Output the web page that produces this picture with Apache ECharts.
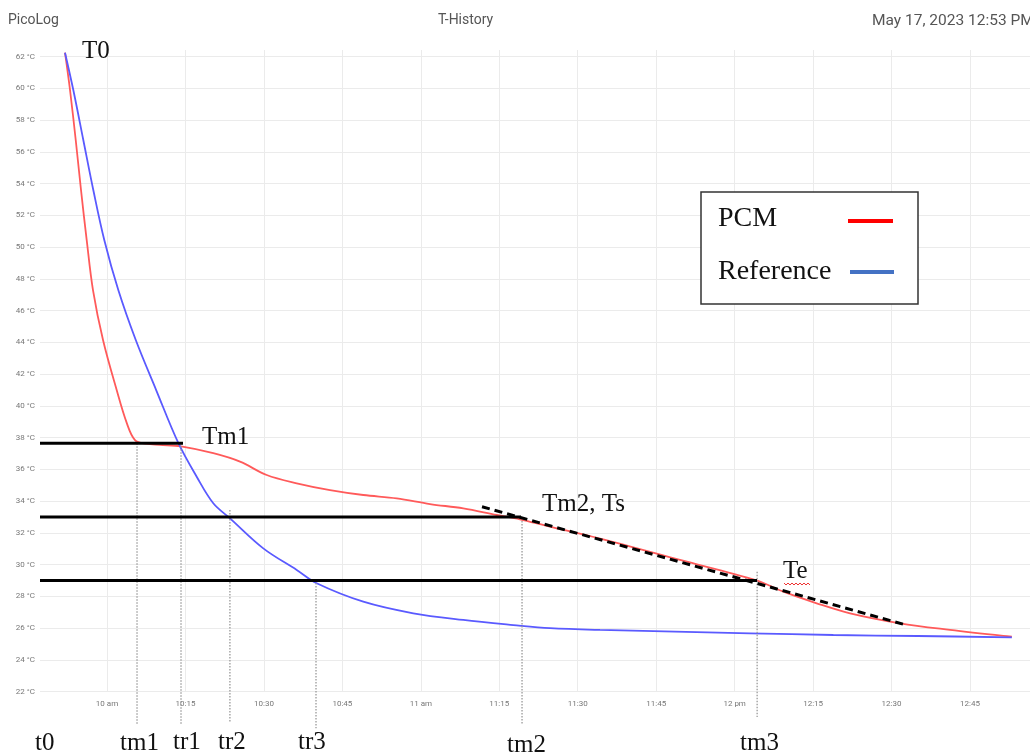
<!DOCTYPE html>
<html>
<head>
<meta charset="utf-8">
<style>html,body{margin:0;padding:0;background:#fff;}#c{width:1030px;height:756px;}</style>
<script src="https://cdn.jsdelivr.net/npm/echarts@6/dist/echarts.min.js"></script>
</head>
<body>
<div id="c"></div>
<script>
// time values are minutes since midnight
var xTicks = [600, 615, 630, 645, 660, 675, 690, 705, 720, 735, 750, 765];

var pcmTime = [591.97, 592.93, 594.02, 595.03, 596.12, 597.32, 599.24, 601.85, 603.77, 605.35, 607.5, 610.1, 614.15, 620.32, 625.43, 630.53, 636.27, 642.64, 649.0, 655.39, 661.76, 668.12, 674.51, 678.96, 684.07, 694.26, 709.55, 724.28, 729.3, 735.69, 742.07, 751.63, 761.18, 771.37, 773.0];
var pcmTemp = [62.25, 59.9, 56.75, 53.6, 50.45, 47.3, 44.15, 41.0, 38.93, 37.85, 37.62, 37.55, 37.45, 37.02, 36.49, 35.65, 35.13, 34.70, 34.39, 34.18, 33.82, 33.55, 33.13, 32.86, 32.44, 31.64, 30.30, 29.0, 28.30, 27.57, 26.94, 26.31, 25.89, 25.51, 25.47];

var refTime = [591.97, 593.56, 595.47, 597.38, 599.48, 602.16, 605.5, 609.4, 613.63, 617.15, 620.32, 623.52, 629.88, 636.27, 640.09, 649.0, 658.56, 668.12, 677.68, 684.7, 694.26, 722.94, 738.87, 755.0, 773.0];
var refTemp = [62.25, 59.9, 56.75, 53.6, 50.45, 47.3, 44.15, 41.0, 37.67, 35.54, 33.87, 32.92, 31.03, 29.67, 28.83, 27.67, 26.94, 26.52, 26.20, 26.0, 25.89, 25.68, 25.57, 25.51, 25.42];

// horizontal reference levels (Tm1, Tm2/Ts, Te)
var levelTemp = [37.65, 33.0, 29.0];
var levelStart = [587.19, 587.19, 587.19];
var levelEnd = [614.53, 679.15, 724.28];

// vertical marker times (tm1, tr1, tr2, tr3, tm2, tm3)
var markTime = [605.74, 614.15, 623.5, 639.96, 679.35, 724.3];
var markTop = [37.65, 37.65, 33.45, 29.04, 32.94, 29.55];
var markBottom = [19.9, 19.97, 20.03, 19.7, 19.97, 20.4];

// tangent line
var tangentTime = [671.7, 752.6];
var tangentTemp = [33.65, 26.22];

var bottomLabels = ['t0', 'tm1', 'tr1', 'tr2', 'tr3', 'tm2', 'tm3'];
var pointLabels = ['T0', 'Tm1', 'Tm2, Ts', 'Te'];
var legendNames = ['PCM', 'Reference'];

function zip(a, b) { return a.map(function (v, i) { return [v, b[i]]; }); }
function fmtTime(m) {
  var h = Math.floor(m / 60), mm = Math.round(m - h * 60);
  if (mm === 0) return h < 12 ? h + ' am' : (h === 12 ? '12 pm' : (h - 12) + ' pm');
  var hh = h > 12 ? h - 12 : h;
  return hh + ':' + (mm < 10 ? '0' + mm : mm);
}

var chart = echarts.init(document.getElementById('c'), null, {renderer: 'canvas'});

var series = [
  {type: 'line', name: legendNames[0], data: zip(pcmTime, pcmTemp), smooth: 0.35, symbol: 'none',
   lineStyle: {color: '#ff5a5a', width: 1.8}, z: 3},
  {type: 'line', name: legendNames[1], data: zip(refTime, refTemp), smooth: 0.35, symbol: 'none',
   lineStyle: {color: '#5a5aff', width: 1.8}, z: 3}
];
levelTemp.forEach(function (t, i) {
  series.push({type: 'line', data: [[levelStart[i], t], [levelEnd[i], t]], symbol: 'none', clip: false,
    lineStyle: {color: '#000', width: 3}, z: 5, silent: true});
});
markTime.forEach(function (m, i) {
  series.push({type: 'line', data: [[m, markTop[i]], [m, markBottom[i]]], symbol: 'none', clip: false,
    lineStyle: {color: '#999', width: 1.3, type: [1.5, 1.5]}, z: 4, silent: true});
});
series.push({type: 'line', data: zip(tangentTime, tangentTemp), symbol: 'none', clip: false,
  lineStyle: {color: '#000', width: 3, type: [8, 5]}, z: 6, silent: true});

var serif = '"Liberation Serif", "DejaVu Serif", serif';
function txt(s, x, y, size) {
  return {type: 'text', left: x, top: y - size / 2, z: 20,
    style: {text: s, font: size + 'px ' + serif, fill: '#111'}};
}
var graphics = [
  {type: 'text', left: 8, top: 13, style: {text: 'PicoLog', font: '14px Roboto', fill: '#555'}},
  {type: 'text', left: 438, top: 13, style: {text: 'T-History', font: '14px Roboto', fill: '#555'}},
  {type: 'text', left: 872, top: 13, style: {text: 'May 17, 2023 12:53 PM', font: '15.5px Roboto', fill: '#555'}},
  txt(pointLabels[0], 82, 51, 25),
  txt(pointLabels[1], 202, 437, 25),
  txt(pointLabels[2], 542, 504, 25),
  txt(pointLabels[3], 783, 571, 25),
  txt(bottomLabels[0], 35, 743, 25),
  txt(bottomLabels[1], 120, 743, 25),
  txt(bottomLabels[2], 173, 742, 25),
  txt(bottomLabels[3], 218, 742, 25),
  txt(bottomLabels[4], 298, 742, 25),
  txt(bottomLabels[5], 507, 745, 25),
  txt(bottomLabels[6], 740, 743, 25),
  {type: 'polyline', z: 20, shape: {points: [[784,583],[786,585],[788,583],[790,585],[792,583],[794,585],[796,583],[798,585],[800,583],[802,585],[804,583],[806,585],[808,583],[810,585]]},
   style: {stroke: '#e33', lineWidth: 1, fill: null}},
  {type: 'rect', z: 20, shape: {x: 701, y: 192, width: 217, height: 112},
   style: {fill: '#fff', stroke: '#333', lineWidth: 1.5}},
  {type: 'text', left: 718, top: 218.5 - 14, z: 21, style: {text: legendNames[0], font: '28px ' + serif, fill: '#111'}},
  {type: 'text', left: 718, top: 271.5 - 14, z: 21, style: {text: legendNames[1], font: '28px ' + serif, fill: '#111'}},
  {type: 'line', z: 21, shape: {x1: 848, y1: 221, x2: 893, y2: 221}, style: {stroke: '#ff0000', lineWidth: 4}},
  {type: 'line', z: 21, shape: {x1: 850, y1: 272, x2: 894, y2: 272}, style: {stroke: '#4472c4', lineWidth: 4}}
];

chart.setOption({
  animation: false,
  backgroundColor: '#fff',
  grid: {left: 40, right: 0, top: 50, bottom: 64.3, containLabel: false},
  xAxis: {
    type: 'value', min: 587.19, max: 776.47,
    axisLine: {show: false},
    axisTick: {show: false, customValues: xTicks},
    axisLabel: {customValues: xTicks, formatter: fmtTime, fontSize: 8, color: '#777', margin: 8, fontFamily: 'Roboto'},
    splitLine: {show: true, lineStyle: {color: '#ebebeb', width: 1}}
  },
  yAxis: {
    type: 'value', min: 22, max: 62.42, interval: 2,
    axisLine: {show: false}, axisTick: {show: false},
    axisLabel: {formatter: '{value} °C', fontSize: 8, color: '#777', margin: 5, showMaxLabel: false, fontFamily: 'Roboto'},
    splitLine: {show: true, showMaxLine: false, lineStyle: {color: '#ebebeb', width: 1}}
  },
  series: series,
  graphic: graphics
});
</script>
</body>
</html>
